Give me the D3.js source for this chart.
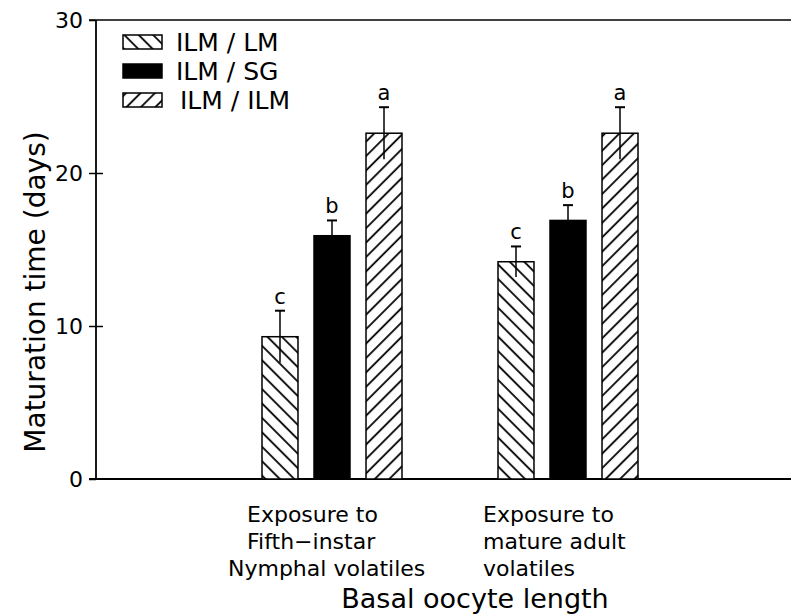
<!DOCTYPE html>
<html>
<head>
<meta charset="utf-8">
<script src="https://cdn.jsdelivr.net/npm/d3@7"></script>
<style>
  html, body { margin: 0; padding: 0; background: #fff; }
  svg { display: block; }
  text { font-family: "DejaVu Sans", sans-serif; fill: #000; }
</style>
</head>
<body>
<svg id="chart" width="791" height="616"></svg>
<script>
// ---- data ----
const groups = ["Fifth-instar nymphal", "Mature adult"];
const groupLabelLines = [
  ["Exposure to", "Fifth\u2212instar", "Nymphal volatiles"],
  ["Exposure to", "mature adult", "volatiles"]
];
const series = ["ILM / LM", "ILM / SG", "ILM / ILM"];
const meanLM  = [9.3, 14.2];
const meanSG  = [15.9, 16.9];
const meanILM = [22.6, 22.6];
const errLM  = [1.7, 1.0];
const errSG  = [1.0, 1.0];
const errILM = [1.7, 1.7];
const letterLM  = ["c", "c"];
const letterSG  = ["b", "b"];
const letterILM = ["a", "a"];
const yTicks = [0, 10, 20, 30];
const yTitle = "Maturation time (days)";
const xTitle = "Basal oocyte length";

const seriesData = [
  { name: series[0], means: meanLM,  errs: errLM,  letters: letterLM,  fill: "url(#hatchBack)" },
  { name: series[1], means: meanSG,  errs: errSG,  letters: letterSG,  fill: "#000" },
  { name: series[2], means: meanILM, errs: errILM, letters: letterILM, fill: "url(#hatchFwd)" }
];

// ---- layout ----
const svg = d3.select("#chart");
const padL = 96, padT = 20, padB = 479, padR = 791;

const y = d3.scaleLinear().domain([0, 30]).range([padB, padT]);
const xg = d3.scaleLinear().domain([0, 3]).range([padL, 804]);
const xs = d3.scaleBand().domain(series).range([-70, 70]).paddingInner(0.308).paddingOuter(0);

// patterns
const defs = svg.append("defs");
function hatch(id, angle, size) {
  const p = defs.append("pattern")
    .attr("id", id)
    .attr("patternUnits", "userSpaceOnUse")
    .attr("width", size).attr("height", size)
    .attr("patternTransform", `rotate(${angle})`);
  p.append("rect").attr("width", size).attr("height", size).attr("fill", "#fff");
  p.append("line").attr("x1", 2).attr("y1", -1).attr("x2", 2).attr("y2", size + 1)
    .attr("stroke", "#000").attr("stroke-width", 1.8);
}
hatch("hatchBack", -45, 10.2);
hatch("hatchFwd", 45, 10.2);

// frame lines
svg.append("line").attr("x1", padL - 7).attr("x2", padR).attr("y1", padT).attr("y2", padT)
  .attr("stroke", "#000").attr("stroke-width", 1.6);
svg.append("line").attr("x1", padL - 7).attr("x2", padR).attr("y1", padB).attr("y2", padB)
  .attr("stroke", "#000").attr("stroke-width", 1.8);

// y axis
const yAxis = d3.axisLeft(y).tickValues(yTicks).tickSize(7).tickPadding(6).tickFormat(d3.format("d"));
const gy = svg.append("g").attr("transform", `translate(${padL},0)`).call(yAxis);
gy.select(".domain").remove();
gy.selectAll(".tick line").attr("stroke", "#000").attr("stroke-width", 1.5);
gy.selectAll(".tick text").style("font-size", "22px").style("font-family", "DejaVu Sans");
gy.selectAll(".tick").filter(d => d > 0 && d < 30)
  .append("line").attr("x1", 0).attr("x2", 7).attr("stroke", "#000").attr("stroke-width", 1.5);
svg.append("line").attr("x1", padL).attr("x2", padL).attr("y1", y(0)).attr("y2", y(30))
  .attr("stroke", "#000").attr("stroke-width", 1.8);

// bars
const gBars = svg.append("g");
seriesData.forEach(s => {
  groups.forEach((g, i) => {
    const cx = xg(i + 1);
    const x0 = cx + xs(s.name);
    const w = xs.bandwidth();
    gBars.append("rect")
      .attr("x", x0).attr("y", y(s.means[i]))
      .attr("width", w).attr("height", y(0) - y(s.means[i]))
      .attr("fill", s.fill).attr("stroke", "#000").attr("stroke-width", 1.5);
    const mx = x0 + w / 2;
    const hi = s.means[i] + s.errs[i], lo = s.means[i] - s.errs[i];
    gBars.append("line").attr("x1", mx).attr("x2", mx).attr("y1", y(lo)).attr("y2", y(hi))
      .attr("stroke", "#000").attr("stroke-width", 1.5);
    gBars.append("line").attr("x1", mx - 5).attr("x2", mx + 5).attr("y1", y(hi)).attr("y2", y(hi))
      .attr("stroke", "#000").attr("stroke-width", 2);
    gBars.append("text").attr("x", mx).attr("y", y(hi) - 7)
      .attr("text-anchor", "middle").style("font-size", "21px").text(s.letters[i]);
  });
});

// legend
const leg = svg.append("g");
seriesData.forEach((s, k) => {
  const yy = 42 + k * 29;
  leg.append("rect").attr("x", 123).attr("y", yy - 7).attr("width", 39).attr("height", 14)
    .attr("fill", s.fill).attr("stroke", "#000").attr("stroke-width", 1.5);
  leg.append("text").attr("x", k === 2 ? 180 : 176).attr("y", yy + 9)
    .style("font-size", "25px").text(s.name);
});

// category labels
groupLabelLines.forEach((lines, i) => {
  const sx = xg(i + 1) - 85;
  lines.forEach((ln, j) => {
    const dx = (i === 0 && j === 2) ? -19 : 0;
    svg.append("text").attr("x", sx + dx).attr("y", 522 + j * 27)
      .style("font-size", "22px").text(ln);
  });
});

// axis titles
svg.append("text").attr("x", 475).attr("y", 608).attr("text-anchor", "middle")
  .style("font-size", "27px").text(xTitle);
svg.append("text").attr("transform", `translate(45,292) rotate(-90)`)
  .attr("text-anchor", "middle").style("font-size", "28px").text(yTitle);
</script>
</body>
</html>
